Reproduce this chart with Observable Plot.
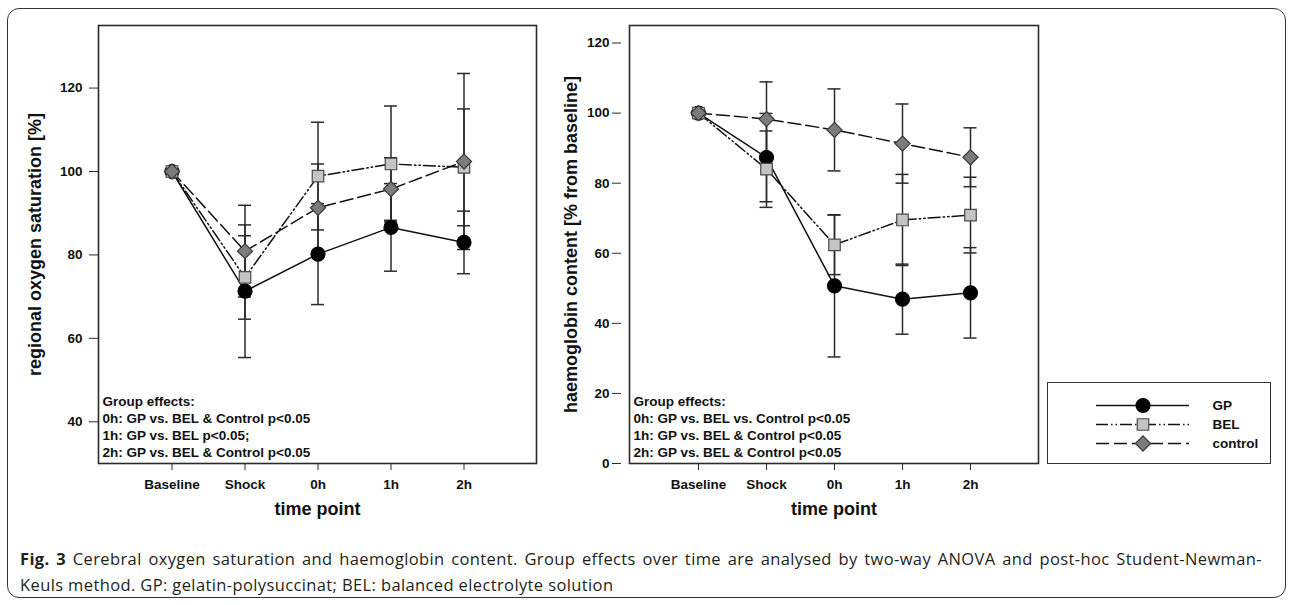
<!DOCTYPE html>
<html>
<head>
<meta charset="utf-8">
<script src="https://cdn.jsdelivr.net/npm/d3@7"></script>
<script src="https://cdn.jsdelivr.net/npm/@observablehq/plot@0.6"></script>
<style>
  body { margin: 0; background: #fff; }
  #wrap { position: relative; width: 1292px; height: 605px; overflow: hidden; background: #fff; }
  #border { position: absolute; left: 7px; top: 8px; width: 1279px; height: 590px; border: 1.5px solid #333; border-radius: 12px; box-sizing: border-box; }
  #left { position: absolute; left: 0; top: 0; }
  #right { position: absolute; left: 540px; top: 0; }
  #legend { position: absolute; left: 1047px; top: 382px; }
  #legend svg { border: 1.5px solid #333; box-sizing: content-box; }
  #caption { position: absolute; left: 20px; top: 546px; width: 1242px; font-family: "Open Sans", sans-serif; font-size: 16.5px; letter-spacing: 0.38px; line-height: 26px; color: #231f20; white-space: nowrap; }
  #caption .l1 { display: block; text-align: justify; text-align-last: justify; white-space: normal; }
  #caption .l2 { display: block; }
  #caption b { font-weight: bold; }
  g[aria-label="y-axis label"], g[aria-label="x-axis label"] { font-size: 18px; }
</style>
</head>
<body>
<div id="wrap">
  <div id="border"></div>
  <div id="left"></div>
  <div id="right"></div>
  <div id="legend"></div>
  <div id="caption"></div>
</div>
<script>
// ---- data ----
const timePoints = ["Baseline", "Shock", "0h", "1h", "2h"];
const seriesNames = ["GP", "BEL", "control"];

// regional oxygen saturation [%] (mean, SD)
const so2GP = [100, 71.3, 80.2, 86.6, 83.0];
const so2GPsd = [0, 15.9, 12.1, 10.5, 7.5];
const so2BEL = [100, 74.6, 98.9, 101.8, 101.0];
const so2BELsd = [0, 10.0, 12.9, 13.9, 14.0];
const so2Control = [100, 80.9, 91.3, 95.8, 102.4];
const so2ControlSd = [0, 11.0, 10.5, 7.5, 21.1];

// haemoglobin content [% from baseline] (mean, SD)
const hbGP = [100, 87.3, 50.7, 46.9, 48.7];
const hbGPsd = [0, 12.6, 20.3, 10.0, 12.9];
const hbBEL = [100, 84.0, 62.4, 69.5, 70.9];
const hbBELsd = [0, 10.9, 8.5, 13.0, 10.8];
const hbControl = [100, 98.3, 95.2, 91.3, 87.4];
const hbControlSd = [0, 10.6, 11.7, 11.3, 8.4];

const leftTicks = [40, 60, 80, 100, 120];
const rightTicks = [0, 20, 40, 60, 80, 100, 120];

const leftNotes = ["Group effects:", "0h: GP vs. BEL & Control p<0.05", "1h: GP vs. BEL p<0.05;", "2h: GP vs. BEL & Control p<0.05"];
const rightNotes = ["Group effects:", "0h: GP vs. BEL vs. Control p<0.05", "1h: GP vs. BEL & Control p<0.05", "2h: GP vs. BEL & Control p<0.05"];

const captionLines = [
  "<b>Fig. 3</b> Cerebral oxygen saturation and haemoglobin content. Group effects over time are analysed by two-way ANOVA and post-hoc Student-Newman-",
  "Keuls method. GP: gelatin-polysuccinat; BEL: balanced electrolyte solution"
];

// ---- styles per series ----
const styles = {
  GP: {symbol: "circle", r: 7, fill: "#000", stroke: "#000", dash: null},
  BEL: {symbol: "square", r: 6.5, fill: "#c4c4c4", stroke: "#4a4a4a", dash: "12,3,1.5,3,1.5,3"},
  control: {symbol: "diamond2", r: 6.8, fill: "#7c7c7c", stroke: "#3a3a3a", dash: "13,5"}
};

function rows(values, sds) {
  return timePoints.map((t, i) => ({t, v: values[i], sd: sds[i]}));
}

function panel({series, yDomain, yTicks, ylabel, labelOffset, notes, width, marginLeft, marginRight, axisDx, capInset, tickPadding}) {
  const marks = [];
  for (const name of seriesNames) {
    const d = series[name].filter(r => r.sd > 0);
    const bar = {x: "t", stroke: "#2a2a2a", strokeWidth: 1.5};
    marks.push(Plot.ruleX(d, {...bar, y1: r => r.v - r.sd, y2: r => r.v + r.sd}));
    marks.push(Plot.tickY(d, {...bar, y: r => r.v + r.sd, insetLeft: capInset, insetRight: capInset}));
    marks.push(Plot.tickY(d, {...bar, y: r => r.v - r.sd, insetLeft: capInset, insetRight: capInset}));
  }
  for (const name of seriesNames) {
    const s = styles[name];
    marks.push(Plot.line(series[name], {x: "t", y: "v", stroke: "#111", strokeWidth: 1.5, strokeDasharray: s.dash}));
  }
  for (const name of seriesNames) {
    const s = styles[name];
    marks.push(Plot.dot(series[name], {x: "t", y: "v", symbol: s.symbol, r: s.r, fill: s.fill, stroke: s.stroke, strokeWidth: 1.2}));
  }
  marks.push(Plot.text([notes.join("\n")], {text: d => d, frameAnchor: "bottom-left", textAnchor: "start", lineAnchor: "bottom", dx: 4, dy: -7, lineHeight: 1.25, fontSize: 13.5, fontWeight: "bold", fill: "#111"}));
  marks.push(Plot.frame({stroke: "#2a2a2a", strokeWidth: 1.6}));
  marks.push(Plot.axisY({ticks: yTicks, tickSize: 9, tickPadding, dx: axisDx, label: null, stroke: "#2a2a2a"}));
  marks.push(Plot.axisY({ticks: [], label: ylabel, labelAnchor: "center", labelOffset, labelArrow: "none"}));
  marks.push(Plot.axisX({tickSize: 7, tickPadding: 9, label: "time point", labelAnchor: "center", labelOffset: 51, labelArrow: "none", stroke: "#2a2a2a"}));
  return Plot.plot({
    width, height: 540,
    marginLeft, marginRight, marginTop: 25, marginBottom: 77,
    style: {fontFamily: "'Liberation Sans', Arial, sans-serif", fontSize: "13.5px", fontWeight: "bold", color: "#111", background: "transparent"},
    x: {type: "band", domain: timePoints, paddingInner: 0, paddingOuter: 0.5},
    y: {domain: yDomain},
    marks
  });
}

document.getElementById("left").append(panel({
  series: {GP: rows(so2GP, so2GPsd), BEL: rows(so2BEL, so2BELsd), control: rows(so2Control, so2ControlSd)},
  yDomain: [30, 135], yTicks: leftTicks, ylabel: "regional oxygen saturation [%]", labelOffset: 70,
  notes: leftNotes, width: 545, marginLeft: 98, marginRight: 9, axisDx: 0, capInset: 30, tickPadding: 7
}));

document.getElementById("right").append(panel({
  series: {GP: rows(hbGP, hbGPsd), BEL: rows(hbBEL, hbBELsd), control: rows(hbControl, hbControlSd)},
  yDomain: [0, 125], yTicks: rightTicks, ylabel: "haemoglobin content [% from baseline]", labelOffset: 65,
  notes: rightNotes, width: 505, marginLeft: 89, marginRight: 7, axisDx: -8, capInset: 27.5, tickPadding: 3
}));

// legend
const legendMarks = [];
for (const name of seriesNames) {
  const s = styles[name];
  legendMarks.push(Plot.ruleY([name], {y: d => d, stroke: "#111", strokeWidth: 1.5, strokeDasharray: s.dash}));
  legendMarks.push(Plot.dot([name], {y: d => d, frameAnchor: "middle", symbol: s.symbol, r: s.r, fill: s.fill, stroke: s.stroke, strokeWidth: 1.2}));
  legendMarks.push(Plot.text([name], {y: d => d, text: d => d, frameAnchor: "right", textAnchor: "start", dx: 23, fontSize: 13.5, fontWeight: "bold", fill: "#111"}));
}
document.getElementById("legend").append(Plot.plot({
  width: 222, height: 80,
  marginLeft: 48, marginRight: 81, marginTop: 21, marginBottom: 20,
  style: {fontFamily: "'Liberation Sans', Arial, sans-serif", background: "#fff"},
  y: {type: "point", domain: seriesNames, padding: 0, axis: null},
  marks: legendMarks
}));

document.getElementById("caption").innerHTML =
  `<span class="l1">${captionLines[0]}</span><span class="l2">${captionLines[1]}</span>`;
</script>
</body>
</html>
